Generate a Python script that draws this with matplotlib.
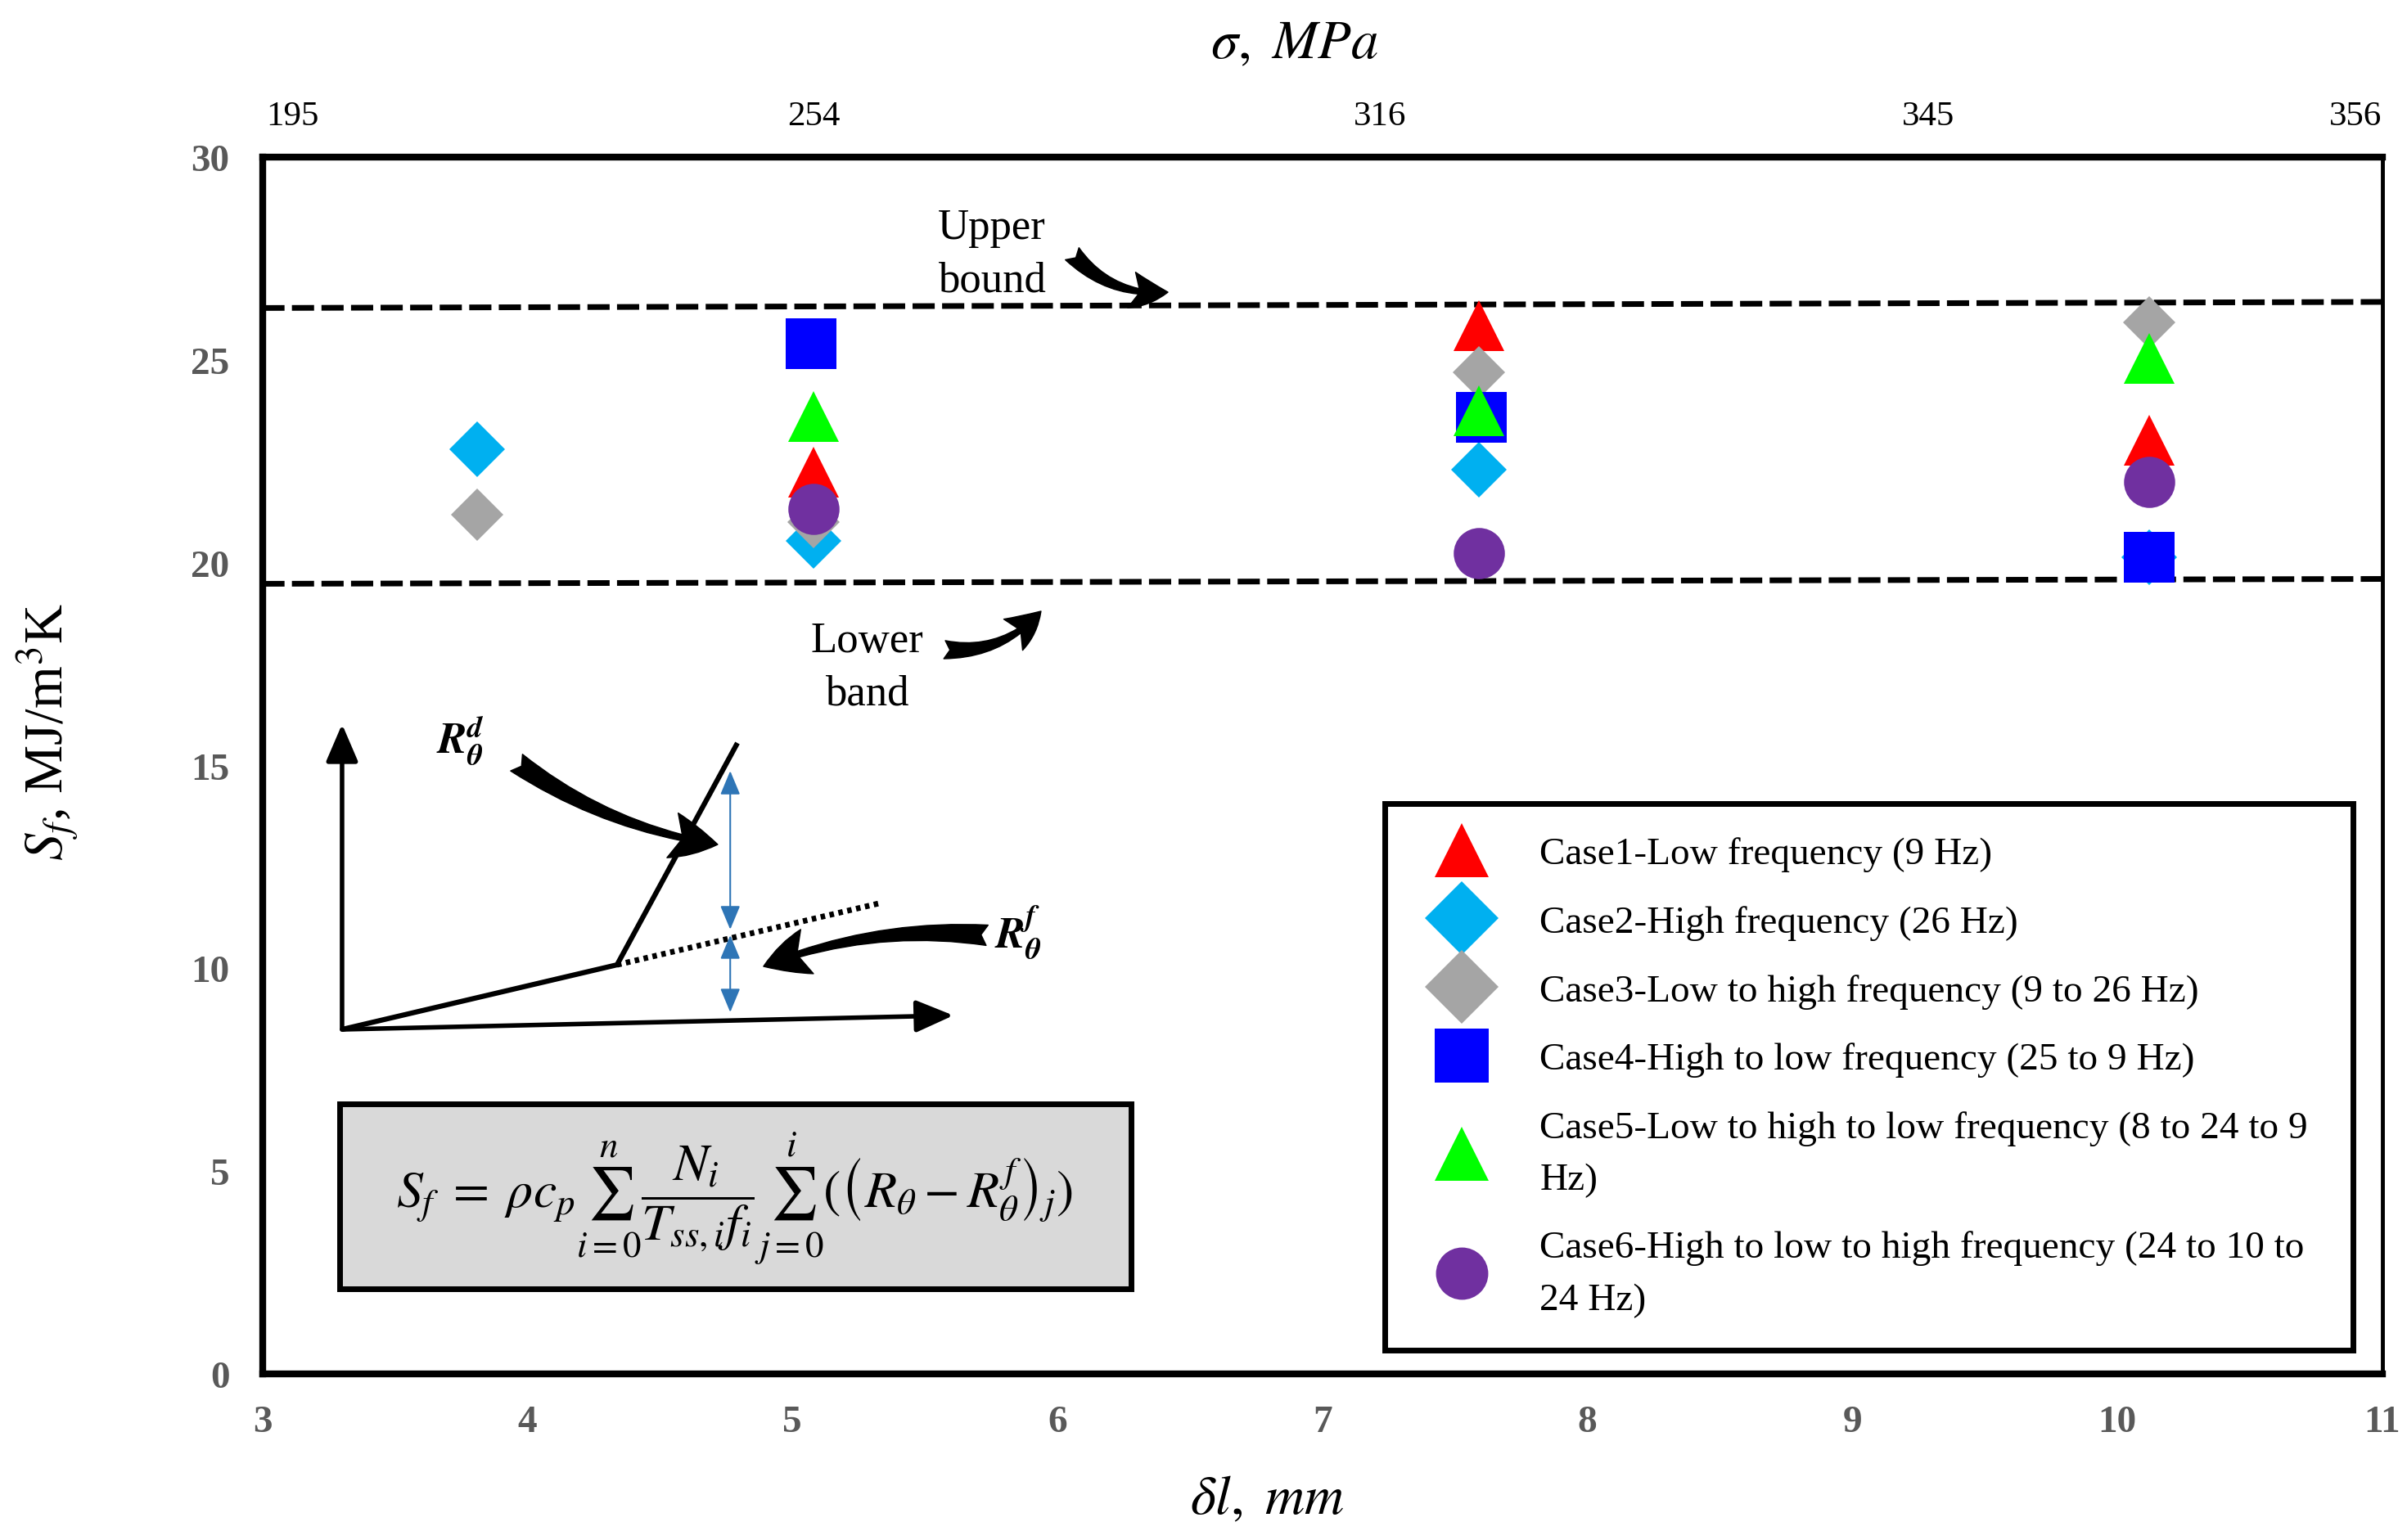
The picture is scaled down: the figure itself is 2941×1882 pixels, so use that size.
import matplotlib
matplotlib.use('Agg')
import matplotlib.pyplot as plt
from matplotlib.lines import Line2D
from matplotlib.patches import Rectangle

plt.rcParams['font.family'] = ['Liberation Serif', 'DejaVu Serif']
plt.rcParams['mathtext.fontset'] = 'stix'

# values: delta l (mm) and S_f (MJ/m^3K)
case_labels = ['Case1-Low frequency (9 Hz)',
               'Case2-High frequency (26 Hz)',
               'Case3-Low to high frequency (9 to 26 Hz)',
               'Case4-High to low frequency (25 to 9 Hz)',
               'Case5-Low to high to low frequency (8 to 24 to 9\nHz)',
               'Case6-High to low to high frequency (24 to 10 to\n24 Hz)']

dl_case1 = [5.08, 7.59, 10.12]
sf_case1 = [22.24, 25.84, 23.01]
dl_case2 = [3.81, 5.08, 7.59, 10.12]
sf_case2 = [22.80, 20.53, 22.29, 20.13]
dl_case3 = [3.81, 5.08, 7.59, 10.12]
sf_case3 = [21.18, 21.00, 24.69, 25.92]
dl_case4 = [5.07, 7.60, 10.12]
sf_case4 = [25.40, 23.59, 20.13]
dl_case5 = [5.08, 7.59, 10.12]
sf_case5 = [23.60, 23.74, 25.04]
dl_case6 = [5.08, 7.59, 10.12]
sf_case6 = [21.32, 20.24, 21.99]

bound_dl = [3, 11]
upper_bound = [26.28, 26.43]
lower_bound = [19.48, 19.60]

sigma_labels = ['195', '254', '316', '345', '356']

# styles
colors = ['#FF0000', '#00B0F0', '#A5A5A5', '#0000FF', '#00FF00', '#7030A0']
markers = ['^', 'D', 'D', 's', '^', 'o']
sizes = [44, 35, 33, 45, 44, 45]
leg_sizes = [47, 46, 46, 47, 47, 46]

fig = plt.figure(figsize=(29.41, 18.83), dpi=100)
ax = fig.add_axes([0.1090, 0.1078, 0.8807, 0.7897])

series = [(dl_case1, sf_case1), (dl_case2, sf_case2), (dl_case3, sf_case3),
          (dl_case4, sf_case4), (dl_case5, sf_case5), (dl_case6, sf_case6)]
for (x, y), c, m, s in zip(series, colors, markers, sizes):
    ax.plot(x, y, linestyle='none', marker=m, markersize=s, color=c,
            markeredgewidth=0, zorder=3)

ax.plot(bound_dl, upper_bound, color='black', lw=5, linestyle=(0, (3.9, 1.3)), zorder=2)
ax.plot(bound_dl, lower_bound, color='black', lw=5, linestyle=(0, (3.9, 1.3)), zorder=2)

ax.set_xlim(3, 11)
ax.set_ylim(0, 30)
ax.set_xticks(range(3, 12))
ax.set_yticks(range(0, 31, 5))
ax.tick_params(axis='both', length=0, labelsize=34, labelcolor='#595959')
ax.tick_params(axis='y', pad=29)
ax.tick_params(axis='x', pad=27)
for lab in ax.get_xticklabels() + ax.get_yticklabels():
    lab.set_fontweight('bold')
for s in ['left', 'top', 'bottom']:
    ax.spines[s].set_linewidth(6)
ax.spines['right'].set_linewidth(3.5)

ax.set_xlabel(r'$\delta l,\ mm$', fontsize=48)
ax.xaxis.set_label_coords(0.474, -0.083)
ax.set_ylabel(r'$S_f$, MJ/m$^3$K', fontsize=48)
ax.yaxis.set_label_coords(-0.086, 0.528)

# top stress axis
ax2 = ax.twiny()
ax2.set_xlim(3, 11)
ax2.set_xticks([3.115, 5.082, 7.219, 9.287, 10.90])
ax2.set_xticklabels(sigma_labels)
ax2.tick_params(length=0, labelsize=31, pad=22)
for sp in ax2.spines.values():
    sp.set_visible(False)
ax2.set_xlabel(r'$\sigma,\ MPa$', fontsize=48)
ax2.xaxis.set_label_coords(0.487, 1.082)

# legend
handles = [Line2D([], [], linestyle='none', marker=m, markersize=s, color=c, markeredgewidth=0)
           for c, m, s in zip(colors, markers, leg_sizes)]
leg = ax.legend(handles, case_labels, loc='upper left',
                bbox_to_anchor=(0.5295, 0.4687, 0.4567, 0), mode='expand',
                fontsize=34, frameon=True, fancybox=False, edgecolor='black',
                framealpha=1, borderpad=0.85, handlelength=2.27, handletextpad=0.89,
                labelspacing=0.86, borderaxespad=0)
leg.get_frame().set_linewidth(5)
for t in leg.get_texts():
    t.set_linespacing(1.64)

# bound annotations
ax.text(0.3442, 0.9206, 'Upper\nbound', transform=ax.transAxes, fontsize=38,
        ha='center', va='center', linespacing=1.45)
ax.annotate('', xy=(0.4272, 0.8890), xytext=(0.3820, 0.9206), xycoords='axes fraction',
            arrowprops=dict(arrowstyle='fancy,head_length=0.8,head_width=0.8,tail_width=0.4',
                            connectionstyle='arc3,rad=0.25', color='black',
                            mutation_scale=40, shrinkA=0, shrinkB=0))
ax.text(0.2851, 0.5810, 'Lower\nband', transform=ax.transAxes, fontsize=38,
        ha='center', va='center', linespacing=1.45)
ax.annotate('', xy=(0.3673, 0.6268), xytext=(0.3218, 0.5952), xycoords='axes fraction',
            arrowprops=dict(arrowstyle='fancy,head_length=0.8,head_width=0.8,tail_width=0.4',
                            connectionstyle='arc3,rad=0.25', color='black',
                            mutation_scale=40, shrinkA=0, shrinkB=0))

# schematic of the R_theta curve
ax.annotate('', xy=(0.0376, 0.534), xytext=(0.0376, 0.2831), xycoords='axes fraction',
            arrowprops=dict(arrowstyle='-|>,head_length=0.7,head_width=0.3', lw=4,
                            color='black', mutation_scale=40, shrinkA=0, shrinkB=0))
ax.annotate('', xy=(0.326, 0.2946), xytext=(0.0376, 0.2831), xycoords='axes fraction',
            arrowprops=dict(arrowstyle='-|>,head_length=0.7,head_width=0.3', lw=4,
                            color='black', mutation_scale=40, shrinkA=0, shrinkB=0))
ax.plot([0.0376, 0.1673, 0.2241], [0.2831, 0.3362, 0.5185], transform=ax.transAxes,
        color='black', lw=4.5, solid_capstyle='butt')
ax.plot([0.1673, 0.2909], [0.3362, 0.3867], transform=ax.transAxes,
        color='black', lw=5, linestyle=(0, (0.8, 0.8)))
ax.annotate('', xy=(0.2207, 0.4956), xytext=(0.2207, 0.3652), xycoords='axes fraction',
            arrowprops=dict(arrowstyle='<|-|>,head_length=0.6,head_width=0.25', lw=1.5,
                            color='#2E75B6', mutation_scale=30, shrinkA=0, shrinkB=0))
ax.annotate('', xy=(0.2207, 0.3605), xytext=(0.2207, 0.2972), xycoords='axes fraction',
            arrowprops=dict(arrowstyle='<|-|>,head_length=0.6,head_width=0.25', lw=1.5,
                            color='#2E75B6', mutation_scale=30, shrinkA=0, shrinkB=0))
ax.text(0.0932, 0.5212, r'$\mathbfit{R}_{\mathbfit{\theta}}^{\mathbfit{d}}$',
        transform=ax.transAxes, fontsize=38, ha='center', va='center')
ax.annotate('', xy=(0.2148, 0.4351), xytext=(0.1199, 0.5024), xycoords='axes fraction',
            arrowprops=dict(arrowstyle='fancy,head_length=0.9,head_width=0.9,tail_width=0.4',
                            connectionstyle='arc3,rad=0.12', color='black',
                            mutation_scale=45, shrinkA=0, shrinkB=0))
ax.text(0.3565, 0.3631, r'$\mathbfit{R}_{\mathbfit{\theta}}^{\mathbfit{f}}$',
        transform=ax.transAxes, fontsize=38, ha='center', va='center')
ax.annotate('', xy=(0.2364, 0.3349), xytext=(0.3419, 0.3605), xycoords='axes fraction',
            arrowprops=dict(arrowstyle='fancy,head_length=0.9,head_width=0.9,tail_width=0.4',
                            connectionstyle='arc3,rad=0.12', color='black',
                            mutation_scale=45, shrinkA=0, shrinkB=0))

# equation box
ax.add_patch(Rectangle((0.0364, 0.0700), 0.3734, 0.1519, transform=ax.transAxes,
                       facecolor='#D9D9D9', edgecolor='black', lw=5, zorder=3))
ax.text(0.2227, 0.1446,
        r'$S_f\;=\;\rho c_p \sum_{i=0}^{n}\dfrac{N_i}{T_{ss,i}f_i}\sum_{j=0}^{i}'
        r'(\left(R_\theta - R_\theta^f\right)_j)$',
        transform=ax.transAxes, fontsize=46, ha='center', va='center', zorder=4)

fig.savefig('out.png', dpi=100)
